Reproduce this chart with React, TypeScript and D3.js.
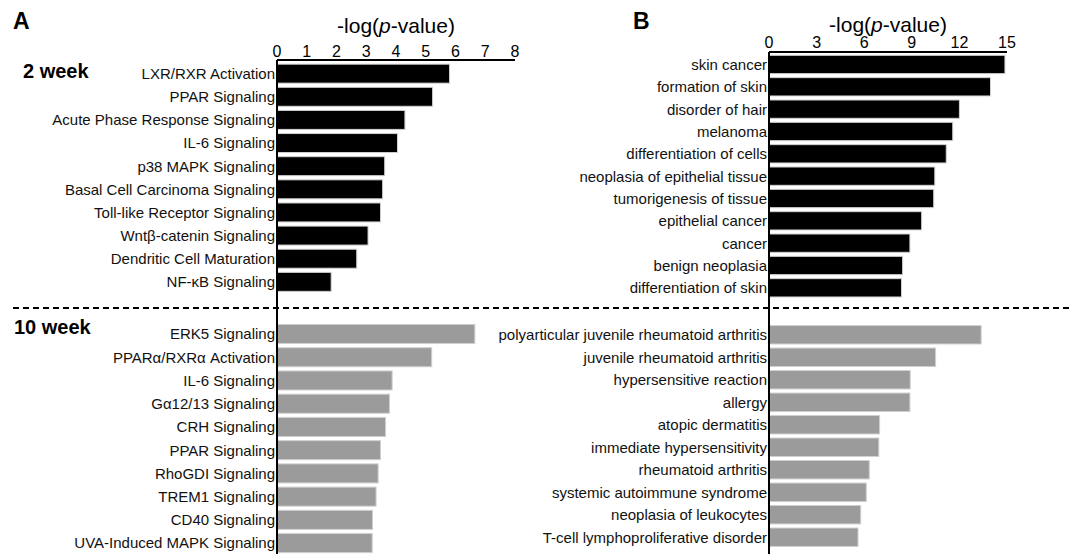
import React from 'react'
import * as d3 from 'd3'

// panel A - canonical pathways
const week2Pathways = ['LXR/RXR Activation', 'PPAR Signaling', 'Acute Phase Response Signaling', 'IL-6 Signaling', 'p38 MAPK Signaling', 'Basal Cell Carcinoma Signaling', 'Toll-like Receptor Signaling', 'Wntβ-catenin Signaling', 'Dendritic Cell Maturation', 'NF-κB Signaling']
const week2PathwayValues = [5.8, 5.23, 4.3, 4.05, 3.62, 3.55, 3.48, 3.06, 2.68, 1.82]
const week10Pathways = ['ERK5 Signaling', 'PPARα/RXRα Activation', 'IL-6 Signaling', 'Gα12/13 Signaling', 'CRH Signaling', 'PPAR Signaling', 'RhoGDI Signaling', 'TREM1 Signaling', 'CD40 Signaling', 'UVA-Induced MAPK Signaling']
const week10PathwayValues = [6.65, 5.2, 3.87, 3.78, 3.65, 3.48, 3.4, 3.33, 3.21, 3.2]
const ticksA = [0, 1, 2, 3, 4, 5, 6, 7, 8]

// panel B - diseases and functions
const week2Diseases = ['skin cancer', 'formation of skin', 'disorder of hair', 'melanoma', 'differentiation of cells', 'neoplasia of epithelial tissue', 'tumorigenesis of tissue', 'epithelial cancer', 'cancer', 'benign neoplasia', 'differentiation of skin']
const week2DiseaseValues = [14.87, 13.96, 12.0, 11.58, 11.17, 10.45, 10.38, 9.62, 8.88, 8.42, 8.35]
const week10Diseases = ['polyarticular juvenile rheumatoid arthritis', 'juvenile rheumatoid arthritis', 'hypersensitive reaction', 'allergy', 'atopic dermatitis', 'immediate hypersensitivity', 'rheumatoid arthritis', 'systemic autoimmune syndrome', 'neoplasia of leukocytes', 'T-cell lymphoproliferative disorder']
const week10DiseaseValues = [13.37, 10.5, 8.9, 8.88, 6.97, 6.92, 6.32, 6.13, 5.78, 5.61]
const ticksB = [0, 3, 6, 9, 12, 15]

const font = '"Liberation Sans", Arial, sans-serif'

function BarGroup({ names, values, x, y0, y1, fill }) {
    const y = d3.scaleBand().domain(names).range([y0, y1]).padding(0.18)
    return (
        <g>
            {names.map((n, i) => (
                <g key={n}>
                    <rect x={x(0)} y={y(n)} width={x(values[i]) - x(0)} height={y.bandwidth()}
                        fill={fill} stroke="#d0d0d0" strokeWidth={1} />
                    <text x={x(0) - 2} y={y(n) + y.bandwidth() / 2} dy="0.36em" textAnchor="end"
                        fontSize={15} fill="#111">{n}</text>
                </g>
            ))}
        </g>
    )
}

function Panel({ letter, letterX, x, axisY, titleY, tickY, ticks, top, bottom }) {
    const [d0, d1] = x.range()
    return (
        <g>
            <text x={letterX} y={29} fontSize={23} fontWeight="bold">{letter}</text>
            <text x={(d0 + d1) / 2} y={titleY} textAnchor="middle" fontSize={21}>
                -log(<tspan fontStyle="italic">p</tspan>-value)
            </text>
            {ticks.map(t => (
                <text key={t} x={x(t)} y={tickY} textAnchor="middle" fontSize={16}>{t}</text>
            ))}
            {top}
            {bottom}
            <line x1={d0} x2={d1} y1={axisY} y2={axisY} stroke="#000" strokeWidth={2} />
            <line x1={d0} x2={d0} y1={axisY} y2={554} stroke="#000" strokeWidth={2} />
        </g>
    )
}

export default function App() {
    const xA = d3.scaleLinear().domain([0, 8]).range([277, 515])
    const xB = d3.scaleLinear().domain([0, 15]).range([769, 1007])

    return (
        <svg width={1072} height={554} style={{ position: 'absolute', left: 0, top: 0, background: '#fff' }} fontFamily={font}>
            <Panel letter="A" letterX={13} x={xA} axisY={60} titleY={33} tickY={57} ticks={ticksA}
                top={<BarGroup names={week2Pathways} values={week2PathwayValues} x={xA} y0={60} y1={295.5} fill="#000" />}
                bottom={<BarGroup names={week10Pathways} values={week10PathwayValues} x={xA} y0={320.3} y1={556.8} fill="#9b9b9b" />}
            />
            <Panel letter="B" letterX={633} x={xB} axisY={52} titleY={32} tickY={48} ticks={ticksB}
                top={<BarGroup names={week2Diseases} values={week2DiseaseValues} x={xB} y0={51.3} y1={301} fill="#000" />}
                bottom={<BarGroup names={week10Diseases} values={week10DiseaseValues} x={xB} y0={321.5} y1={550.5} fill="#9b9b9b" />}
            />
            <text x={23} y={78} fontSize={20} fontWeight="bold">2 week</text>
            <text x={14} y={334} fontSize={20} fontWeight="bold">10 week</text>
            <line x1={13} x2={1072} y1={308} y2={308} stroke="#000" strokeWidth={2} strokeDasharray="6 4" />
        </svg>
    )
}
